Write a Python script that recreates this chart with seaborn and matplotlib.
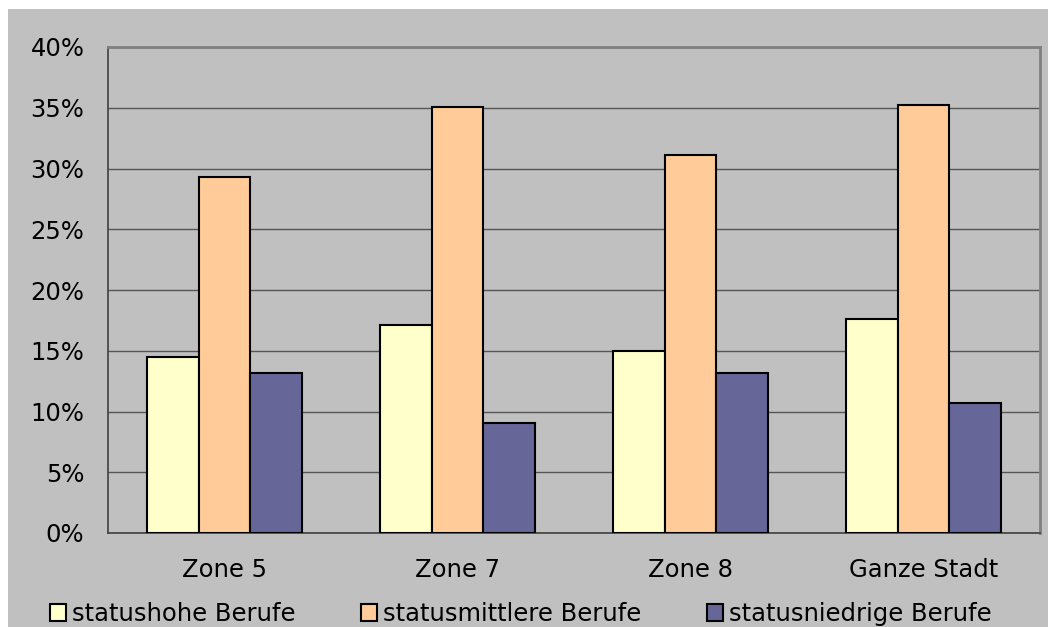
import numpy as np
import pandas as pd
import seaborn as sns
import matplotlib.pyplot as plt
from matplotlib.patches import Rectangle
from matplotlib.ticker import PercentFormatter, MultipleLocator

zones = ['Zone 5', 'Zone 7', 'Zone 8', 'Ganze Stadt']
groups = ['statushohe Berufe', 'statusmittlere Berufe', 'statusniedrige Berufe']
hohe = [14.5, 17.1, 15.0, 17.6]
mittlere = [29.3, 35.1, 31.1, 35.25]
niedrige = [13.2, 9.05, 13.2, 10.7]
colors = ['#FFFFCC', '#FFCC99', '#666699']

df = pd.DataFrame({
    'zone': zones * 3,
    'gruppe': [groups[0]] * 4 + [groups[1]] * 4 + [groups[2]] * 4,
    'anteil': hohe + mittlere + niedrige,
})

sns.set_style('white')
plt.rcParams['font.family'] = ['DejaVu Sans']
plt.rcParams['text.color'] = 'black'
fs = 17.5

W, H = 1048, 627
fig = plt.figure(figsize=(W / 100, H / 100), dpi=100)
fig.patch.set_facecolor('white')
# grey chart area
fig.patches.append(Rectangle((8 / W, 0), 1 - 8 / W, 1 - 9 / H, transform=fig.transFigure,
                             facecolor='#C0C0C0', edgecolor='none', zorder=-10))

ax = fig.add_axes([108 / W, (H - 533) / H, 932 / W, 486 / H])
ax.set_facecolor('#C0C0C0')

sns.barplot(data=df, x='zone', y='anteil', hue='gruppe', palette=colors, saturation=1,
            width=2 / 3, gap=0, edgecolor='black', linewidth=1.5, ax=ax,
            legend=False, zorder=3)

ax.set_ylim(0, 40)
ax.set_xlim(-0.5, 3.5)
ax.yaxis.set_major_locator(MultipleLocator(5))
ax.yaxis.set_major_formatter(PercentFormatter(decimals=0))
ax.yaxis.grid(True, color='#555555', linewidth=1.0, zorder=0)
ax.set_axisbelow(True)
ax.set_xlabel('')
ax.set_ylabel('')

# category boundary ticks on x
ax.set_xticks([0, 1, 2, 3])
ax.set_xticklabels(zones)
ax.set_xticks([-0.5, 0.5, 1.5, 2.5, 3.5], minor=True)
ax.tick_params(axis='x', which='major', length=0, pad=18, labelsize=fs)
ax.tick_params(axis='x', which='minor', length=6, width=1, color='#404040', direction='out')
ax.tick_params(axis='y', length=6, width=1, color='#404040', direction='out', pad=11, labelsize=fs)
ax.tick_params(axis='both', labelcolor='black')

for side in ['left', 'bottom']:
    ax.spines[side].set_color('#404040')
    ax.spines[side].set_linewidth(1.2)
for side in ['top', 'right']:
    ax.spines[side].set_visible(True)
    ax.spines[side].set_color('#808080')
    ax.spines[side].set_linewidth(2)

handles = [Rectangle((0, 0), 1, 1, facecolor=c, edgecolor='black', linewidth=1.5) for c in colors]
leg = fig.legend(handles, groups, loc='center', bbox_to_anchor=(521 / W, 1 - 614 / H), ncol=3,
                 frameon=False, fontsize=fs, handlelength=0.65, handleheight=0.65,
                 handletextpad=0.25, columnspacing=2.7)
for t in leg.get_texts():
    t.set_color('black')

fig.savefig('out.png', dpi=100, facecolor=fig.get_facecolor())
